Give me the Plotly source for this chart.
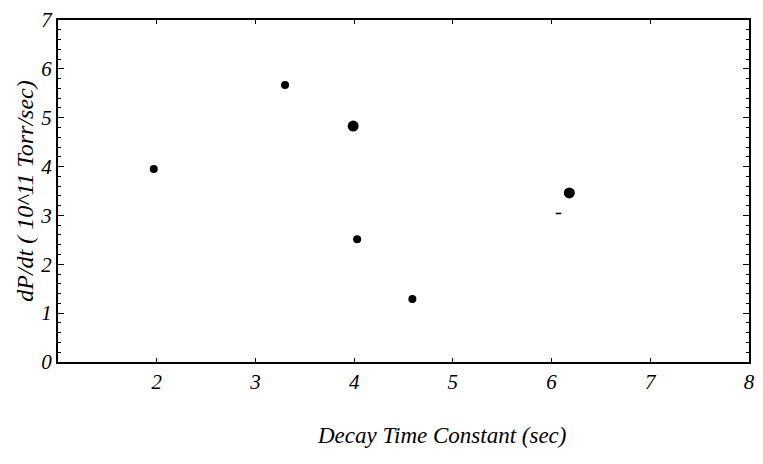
import plotly.graph_objects as go

# Data
small_x = [1.97, 3.30, 4.03, 4.59]
small_y = [3.95, 5.67, 2.51, 1.29]
large_x = [3.99, 6.18]
large_y = [4.83, 3.46]
dash_x = [6.07]
dash_y = [3.04]

x_ticks = [2, 3, 4, 5, 6, 7, 8]
y_ticks = [0, 1, 2, 3, 4, 5, 6, 7]

x_title = "Decay Time Constant (sec)"
y_title = "dP/dt ( 10^11 Torr/sec)"

font_family = "Liberation Serif, Times New Roman, serif"

fig = go.Figure()
fig.add_trace(go.Scatter(x=small_x, y=small_y, mode="markers",
                         marker=dict(color="black", size=8), showlegend=False))
fig.add_trace(go.Scatter(x=large_x, y=large_y, mode="markers",
                         marker=dict(color="black", size=11), showlegend=False))
fig.add_trace(go.Scatter(x=dash_x, y=dash_y, mode="markers",
                         marker=dict(symbol="line-ew", size=4,
                                     line=dict(color="black", width=1.5)),
                         showlegend=False))

fig.add_annotation(text=f"<i>{x_title}</i>", xref="paper", yref="paper",
                   x=0.555, y=-0.216, xanchor="center", yanchor="middle",
                   showarrow=False, font=dict(size=23, family=font_family, color="black"))

fig.update_layout(
    width=763, height=464,
    margin=dict(l=58, r=8, t=15, b=102),
    plot_bgcolor="white", paper_bgcolor="white",
    font=dict(family=font_family, color="black"),
    xaxis=dict(
        range=[1, 8], tickvals=x_ticks, ticktext=[f"<i>{v}</i>" for v in x_ticks],
        showgrid=False, zeroline=False, showline=True, linecolor="black", linewidth=2,
        mirror="ticks", ticks="inside", ticklen=4, tickcolor="black",
        tickfont=dict(size=21, family=font_family),
    ),
    yaxis=dict(
        range=[0, 7], tickvals=y_ticks, ticktext=[f"<i>{v}</i>" for v in y_ticks],
        showgrid=False, zeroline=False, showline=True, linecolor="black", linewidth=2,
        mirror="ticks", ticks="inside", ticklen=6, tickcolor="black",
        tickfont=dict(size=21, family=font_family),
        minor=dict(dtick=0.2, ticks="inside", ticklen=3, tickcolor="black", showgrid=False),
        title=dict(text=f"<i>{y_title}</i>", font=dict(size=24, family=font_family),
                   standoff=0),
    ),
)

fig.write_html("out.html")
